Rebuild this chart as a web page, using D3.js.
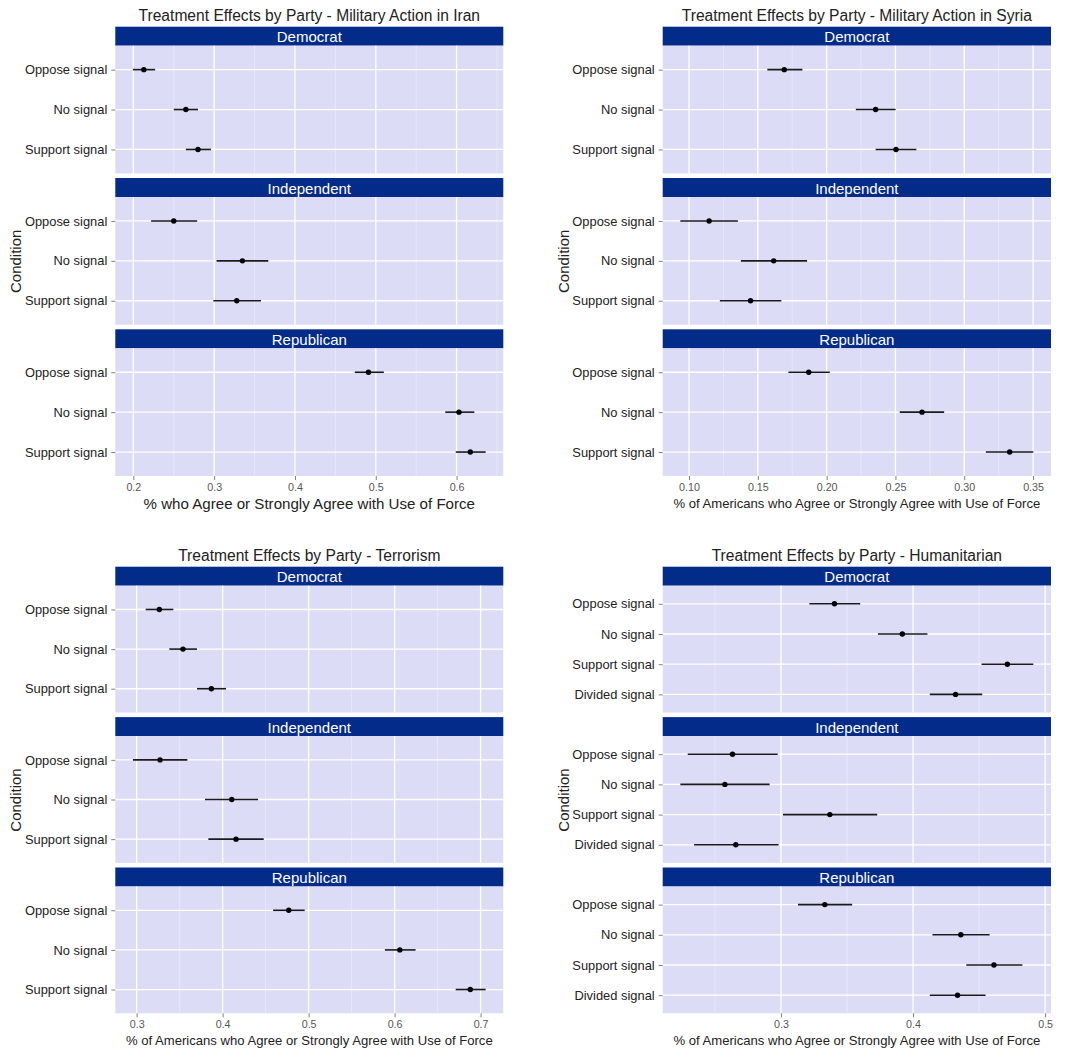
<!DOCTYPE html>
<html>
<head>
<meta charset="utf-8">
<script src="https://cdn.jsdelivr.net/npm/d3@7"></script>
<style>
  html, body { margin: 0; padding: 0; background: #ffffff; }
  svg { display: block; font-family: "Liberation Sans", Arial, Helvetica, sans-serif; }
</style>
</head>
<body>
<svg id="chart" width="1075" height="1064"></svg>
<script>
// ---------------- DATA ----------------
const parties = ["Democrat", "Independent", "Republican"];
const conditions3 = ["Oppose signal", "No signal", "Support signal"];
const conditions4 = ["Oppose signal", "No signal", "Support signal", "Divided signal"];

// Iran (rows: Democrat, Independent, Republican; cols: conditions3)
const iranEstimate = [[0.213, 0.265, 0.280], [0.250, 0.335, 0.328], [0.491, 0.603, 0.617]];
const iranLower    = [[0.1995, 0.250, 0.265], [0.222, 0.303, 0.299], [0.474, 0.586, 0.599]];
const iranUpper    = [[0.227, 0.280, 0.296], [0.279, 0.367, 0.358], [0.510, 0.622, 0.636]];
const iranTicks = [0.2, 0.3, 0.4, 0.5, 0.6];

// Syria
const syriaEstimate = [[0.1692, 0.2356, 0.2504], [0.1146, 0.1615, 0.1447], [0.1870, 0.2693, 0.3330]];
const syriaLower    = [[0.1569, 0.2212, 0.2356], [0.0937, 0.1377, 0.1224], [0.1722, 0.2531, 0.3157]];
const syriaUpper    = [[0.1824, 0.2501, 0.2652], [0.1355, 0.1858, 0.1671], [0.2023, 0.2854, 0.3502]];
const syriaTicks = [0.10, 0.15, 0.20, 0.25, 0.30, 0.35];

// Terrorism
const terrorEstimate = [[0.3264, 0.3539, 0.3869], [0.3272, 0.4106, 0.4156], [0.4769, 0.6061, 0.6880]];
const terrorLower    = [[0.3105, 0.3380, 0.3702], [0.2957, 0.3795, 0.3834], [0.4587, 0.5887, 0.6710]];
const terrorUpper    = [[0.3427, 0.3702, 0.4040], [0.3590, 0.4412, 0.4478], [0.4955, 0.6244, 0.7059]];
const terrorTicks = [0.3, 0.4, 0.5, 0.6, 0.7];

// Humanitarian (cols: conditions4)
const humanEstimate = [[0.3405, 0.3919, 0.4714, 0.4322], [0.2633, 0.2575, 0.3370, 0.2658], [0.3332, 0.4362, 0.4613, 0.4337]];
const humanLower    = [[0.3215, 0.3734, 0.4519, 0.4127], [0.2294, 0.2238, 0.3015, 0.2342], [0.3129, 0.4147, 0.4403, 0.4127]];
const humanUpper    = [[0.3600, 0.4109, 0.4911, 0.4524], [0.2975, 0.2914, 0.3729, 0.2982], [0.3539, 0.4580, 0.4828, 0.4549]];
const humanTicks = [0.3, 0.4, 0.5];

const titles = [
  "Treatment Effects by Party - Military Action in Iran",
  "Treatment Effects by Party - Military Action in Syria",
  "Treatment Effects by Party - Terrorism",
  "Treatment Effects by Party - Humanitarian"
];
const xTitles = [
  "% who Agree or Strongly Agree with Use of Force",
  "% of Americans who Agree or Strongly Agree with Use of Force",
  "% of Americans who Agree or Strongly Agree with Use of Force",
  "% of Americans who Agree or Strongly Agree with Use of Force"
];
const yTitle = "Condition";

// ---------------- STYLE / LAYOUT ----------------
const STRIP = "#032b8a";
const PANEL = "#dcdcf6";
const MINOR = "#ececfa";
const TEXT = "#222222";
const TICKTXT = "#555555";

const charts = [
  { est: iranEstimate, lo: iranLower, hi: iranUpper, ticks: iranTicks, fmt: d3.format(".1f"), conds: conditions3,
    left: 115.3, right: 503.3, top: 26.7, bottom: 476, titleY: 15, tickY: 489, xTitleY: 503.5, xTitleSize: 15.1, condX: 15 },
  { est: syriaEstimate, lo: syriaLower, hi: syriaUpper, ticks: syriaTicks, fmt: d3.format(".2f"), conds: conditions3,
    left: 662.7, right: 1051, top: 26.7, bottom: 476, titleY: 15, tickY: 489, xTitleY: 503.5, xTitleSize: 13.1, condX: 563.3 },
  { est: terrorEstimate, lo: terrorLower, hi: terrorUpper, ticks: terrorTicks, fmt: d3.format(".1f"), conds: conditions3,
    left: 115.3, right: 503.3, top: 566.7, bottom: 1013.3, titleY: 555, tickY: 1026.7, xTitleY: 1040, xTitleSize: 13.1, condX: 15 },
  { est: humanEstimate, lo: humanLower, hi: humanUpper, ticks: humanTicks, fmt: d3.format(".1f"), conds: conditions4,
    left: 662.7, right: 1051, top: 566.7, bottom: 1013.3, titleY: 555, tickY: 1026.7, xTitleY: 1040, xTitleSize: 13.1, condX: 563.3 }
];

const stripH = 19;
const gap = 4.6;

const svg = d3.select("#chart");

charts.forEach((c, ci) => {
  const g = svg.append("g");
  // x domain with 5% expansion, as ggplot
  const allLo = d3.min(c.lo.flat()), allHi = d3.max(c.hi.flat());
  const pad = (allHi - allLo) * 0.05;
  const x = d3.scaleLinear().domain([allLo - pad, allHi + pad]).range([c.left, c.right]);

  // minor ticks: midpoints between majors, extended
  const step = c.ticks[1] - c.ticks[0];
  const minors = [];
  for (let v = c.ticks[0] - step / 2; v <= x.domain()[1]; v += step) {
    if (v >= x.domain()[0]) minors.push(v);
  }

  const bodyH = (c.bottom - c.top - 3 * stripH - 2 * gap) / 3;

  // title
  g.append("text")
    .attr("x", (c.left + c.right) / 2).attr("y", c.titleY)
    .attr("text-anchor", "middle").attr("dominant-baseline", "central")
    .attr("font-size", 15.6).attr("fill", TEXT)
    .text(titles[ci]);

  parties.forEach((p, pi) => {
    const sTop = c.top + pi * (stripH + bodyH + gap);
    const bTop = sTop + stripH;
    const bBot = bTop + bodyH;

    // strip
    g.append("rect").attr("x", c.left).attr("y", sTop).attr("width", c.right - c.left).attr("height", stripH).attr("fill", STRIP);
    g.append("text")
      .attr("x", (c.left + c.right) / 2).attr("y", sTop + stripH / 2 + 0.5)
      .attr("text-anchor", "middle").attr("dominant-baseline", "central")
      .attr("font-size", 15).attr("fill", "#ffffff").text(p);

    // panel
    g.append("rect").attr("x", c.left).attr("y", bTop).attr("width", c.right - c.left).attr("height", bodyH).attr("fill", PANEL);

    const y = d3.scalePoint().domain(c.conds).range([bTop, bBot]).padding(0.6);

    // minor grid
    g.append("g").selectAll("line").data(minors).join("line")
      .attr("x1", d => x(d)).attr("x2", d => x(d)).attr("y1", bTop).attr("y2", bBot)
      .attr("stroke", MINOR).attr("stroke-width", 0.7);
    // major grid
    g.append("g").selectAll("line").data(c.ticks).join("line")
      .attr("x1", d => x(d)).attr("x2", d => x(d)).attr("y1", bTop).attr("y2", bBot)
      .attr("stroke", "#ffffff").attr("stroke-width", 1.3);
    g.append("g").selectAll("line").data(c.conds).join("line")
      .attr("x1", c.left).attr("x2", c.right).attr("y1", d => y(d)).attr("y2", d => y(d))
      .attr("stroke", "#ffffff").attr("stroke-width", 1.3);

    // data
    const rows = c.conds.map((cond, k) => ({ cond, est: c.est[pi][k], lo: c.lo[pi][k], hi: c.hi[pi][k] }));
    g.append("g").selectAll("line").data(rows).join("line")
      .attr("x1", d => x(d.lo)).attr("x2", d => x(d.hi)).attr("y1", d => y(d.cond)).attr("y2", d => y(d.cond))
      .attr("stroke", "#1a1a1a").attr("stroke-width", 1.6);
    g.append("g").selectAll("circle").data(rows).join("circle")
      .attr("cx", d => x(d.est)).attr("cy", d => y(d.cond)).attr("r", 2.7).attr("fill", "#000000");

    // y axis
    const ya = g.append("g").attr("transform", `translate(${c.left},0)`)
      .call(d3.axisLeft(y).tickSize(4).tickPadding(4));
    ya.select(".domain").remove();
    ya.selectAll(".tick line").attr("stroke", "#7f7f7f");
    ya.selectAll(".tick text").attr("font-size", 12.9).attr("fill", TEXT)
      .attr("font-family", "Liberation Sans, Arial, sans-serif");

    if (pi === 2) {
      const xa = g.append("g").attr("transform", `translate(0,${bBot})`)
        .call(d3.axisBottom(x).tickValues(c.ticks).tickFormat(c.fmt).tickSize(4).tickPadding(3));
      xa.select(".domain").remove();
      xa.selectAll(".tick line").attr("stroke", "#7f7f7f");
      xa.selectAll(".tick text").attr("font-size", 10.7).attr("fill", TICKTXT)
        .attr("font-family", "Liberation Sans, Arial, sans-serif");
    }
  });

  // axis titles
  g.append("text")
    .attr("x", (c.left + c.right) / 2).attr("y", c.xTitleY)
    .attr("text-anchor", "middle").attr("dominant-baseline", "central")
    .attr("font-size", c.xTitleSize).attr("fill", TEXT).text(xTitles[ci]);
  g.append("text")
    .attr("transform", `translate(${c.condX},${(c.top + c.bottom) / 2 + 10}) rotate(-90)`)
    .attr("text-anchor", "middle").attr("dominant-baseline", "central")
    .attr("font-size", 15).attr("fill", TEXT).text(yTitle);
});
</script>
</body>
</html>
